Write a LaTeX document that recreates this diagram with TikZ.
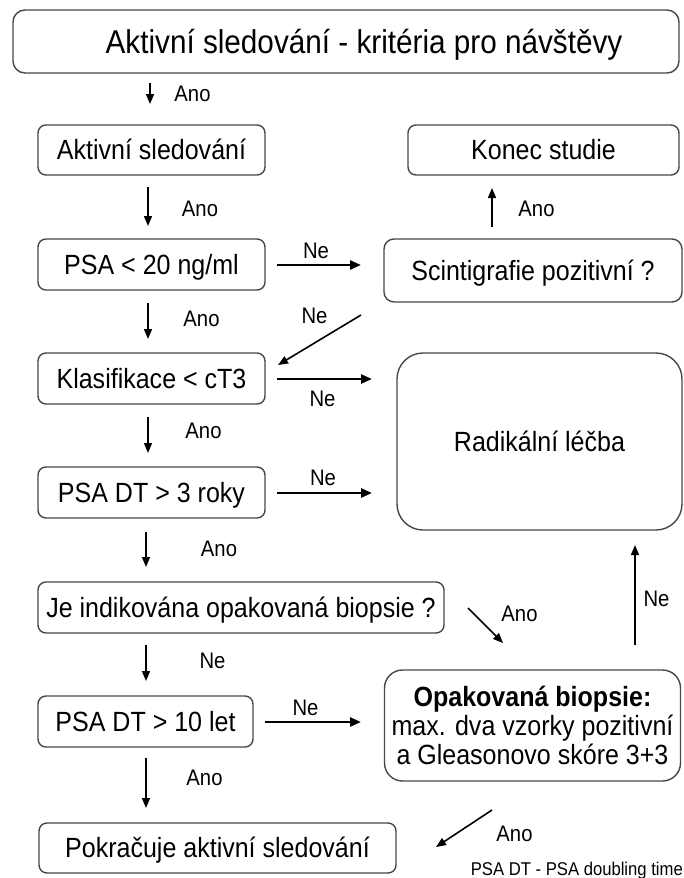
\documentclass[tikz,border=0pt]{standalone}
\usepackage{fontspec}
\setmainfont{Liberation Sans}[FakeStretch=0.9]
\usetikzlibrary{arrows.meta}
\begin{document}
\begin{tikzpicture}[x=1pt,y=-1pt,
  box/.style={draw=black!72, line width=1.4pt, rounded corners=8pt, inner sep=0pt,
    align=center, font=\fontsize{27.8}{28}\selectfont, text height=19.9pt, text depth=0pt},
  bigbox/.style={draw=black!72, line width=1.4pt, rounded corners=18pt, inner sep=0pt,
    align=center, font=\fontsize{27.8}{29}\selectfont},
  lab/.style={inner sep=0pt, font=\fontsize{22.5}{24}\selectfont, text height=16pt, text depth=0pt},
  arr/.style={line width=1.6pt, -{Triangle[length=10pt,width=8pt]}},
  harr/.style={line width=2.4pt, -{Triangle[length=11pt,width=9pt]}}]
\useasboundingbox (0,0) rectangle (683,878);
\fill[white] (0,0) rectangle (683,878);

% boxes
\node[box, rounded corners=12pt, minimum width=666pt, minimum height=63pt] (titlebox) at (346,41.5) {};
\node[anchor=base, inner sep=0pt, font=\fontsize{33}{36}\selectfont] (title) at (364,53) {Aktivní sledování - kritéria pro návštěvy};
\node[box, minimum width=227pt, minimum height=50pt] (akt) at (151.5,150) {Aktivní sledování};
\node[box, minimum width=271pt, minimum height=50pt] (konec) at (543.5,150) {Konec studie};
\node[box, minimum width=227pt, minimum height=51pt] (psa) at (151.5,264.5) {PSA < 20 ng/ml};
\node[box, rounded corners=10pt, minimum width=298pt, minimum height=63pt] (scint) at (533,270.5) {Scintigrafie pozitivní ?};
\node[box, minimum width=227pt, minimum height=51pt] (klas) at (151.5,378.5) {Klasifikace < cT3};
\node[box, rounded corners=26pt, minimum width=285pt, minimum height=177pt] (rad) at (539.5,441.5) {Radikální léčba};
\node[box, minimum width=227pt, minimum height=51pt] (dt3) at (151.5,492.5) {PSA DT > 3 roky};
\node[box, minimum width=406pt, minimum height=51pt] (je) at (241,607.5) {Je indikována opakovaná biopsie ?};
\node[box, minimum width=215pt, minimum height=51pt] (dt10) at (145.5,721.5) {PSA DT > 10 let};
\node[bigbox, minimum width=296pt, minimum height=111pt] (opak) at (532.5,725.5)
  {\textbf{Opakovaná biopsie:}\\max. dva vzorky pozitivní\\a Gleasonovo skóre 3+3};
\node[box, minimum width=357pt, minimum height=50pt] (pokr) at (217.5,848) {Pokračuje aktivní sledování};
\node[anchor=east, inner sep=0pt, font=\fontsize{18.5}{20}\selectfont, text height=13.3pt, text depth=0pt] (foot) at (683,869) {PSA DT - PSA doubling time};

% arrow end points
\coordinate (a1s) at (150,83);  \coordinate (a1e) at (150,104);
\coordinate (a2s) at (148,187); \coordinate (a2e) at (148,226);
\coordinate (a3s) at (492,227); \coordinate (a3e) at (492,188);
\coordinate (a4s) at (277,265); \coordinate (a4e) at (361,265);
\coordinate (a5s) at (148,303); \coordinate (a5e) at (148,339);
\coordinate (a6s) at (361,315); \coordinate (a6e) at (278,365);
\coordinate (a7s) at (277,379); \coordinate (a7e) at (372,379);
\coordinate (a8s) at (148,417); \coordinate (a8e) at (148,453);
\coordinate (a9s) at (277,493); \coordinate (a9e) at (372,493);
\coordinate (a10s) at (146,532); \coordinate (a10e) at (146,567);
\coordinate (a11s) at (468,608); \coordinate (a11e) at (503,643);
\coordinate (a12s) at (635,645); \coordinate (a12e) at (635,545);
\coordinate (a13s) at (146,645); \coordinate (a13e) at (146,681);
\coordinate (a14s) at (265,722); \coordinate (a14e) at (361,722);
\coordinate (a15s) at (146,758); \coordinate (a15e) at (146,808);
\coordinate (a16s) at (492,810); \coordinate (a16e) at (436,847);

\draw[arr] (a1s) -- (a1e);
\draw[arr] (a2s) -- (a2e);
\draw[arr] (a3s) -- (a3e);
\draw[harr] (a4s) -- (a4e);
\draw[arr] (a5s) -- (a5e);
\draw[arr] (a6s) -- (a6e);
\draw[harr] (a7s) -- (a7e);
\draw[arr] (a8s) -- (a8e);
\draw[harr] (a9s) -- (a9e);
\draw[arr] (a10s) -- (a10e);
\draw[arr] (a11s) -- (a11e);
\draw[arr] (a12s) -- (a12e);
\draw[arr] (a13s) -- (a13e);
\draw[harr] (a14s) -- (a14e);
\draw[arr] (a15s) -- (a15e);
\draw[arr] (a16s) -- (a16e);

% labels
\node[lab] (l1) at (192.5,93) {Ano};
\node[lab] (l2) at (200,208) {Ano};
\node[lab] (l3) at (536.5,208) {Ano};
\node[lab] (l4) at (316,250) {Ne};
\node[lab] (l5) at (201.5,318) {Ano};
\node[lab] (l6) at (314.5,315) {Ne};
\node[lab] (l7) at (322.5,398) {Ne};
\node[lab] (l8) at (203.5,430) {Ano};
\node[lab] (l9) at (323,477) {Ne};
\node[lab] (l10) at (219,548) {Ano};
\node[lab] (l11) at (519.5,613) {Ano};
\node[lab] (l12) at (656.5,598) {Ne};
\node[lab] (l13) at (212.5,660) {Ne};
\node[lab] (l14) at (305.5,707) {Ne};
\node[lab] (l15) at (204.5,777) {Ano};
\node[lab] (l16) at (514.5,833) {Ano};
\end{tikzpicture}
\end{document}
